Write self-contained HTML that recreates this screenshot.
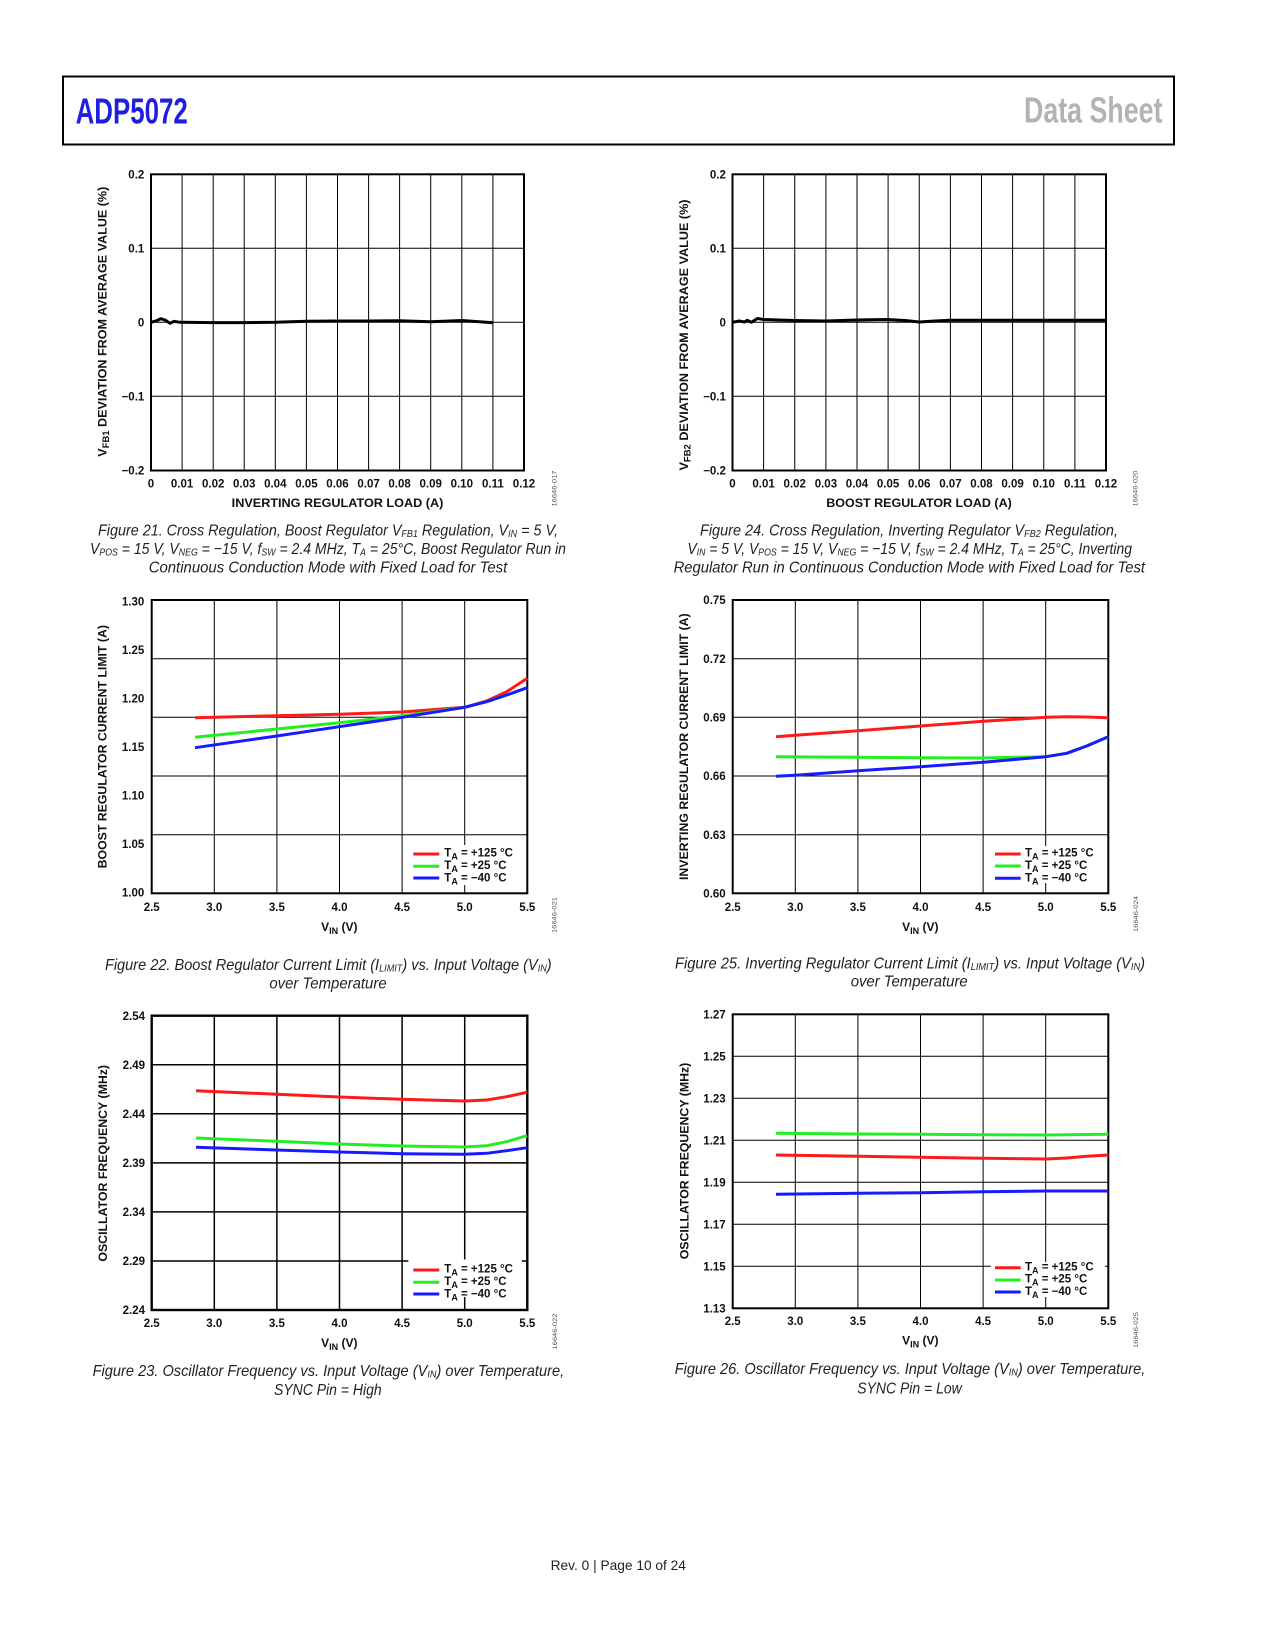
<!DOCTYPE html>
<html><head><meta charset="utf-8">
<style>
html,body{margin:0;padding:0;background:#fff;}
svg{display:block;}
text{font-family:"Liberation Sans",Arial,sans-serif;}
.t{font-size:11.5px;font-weight:bold;fill:#111;}
.ti{font-size:12px;font-weight:bold;fill:#111;}
.cap{font-size:16px;font-style:italic;fill:#231f20;}
.code{font-size:6.5px;fill:#555;}
.grid{stroke:#000;stroke-width:1;fill:none;}
.frame{stroke:#000;stroke-width:2;fill:none;}
.s{fill:none;stroke-width:3;stroke-linejoin:round;stroke-linecap:butt;}
</style></head>
<body>
<svg width="1275" height="1650" viewBox="0 0 1275 1650" xmlns="http://www.w3.org/2000/svg">
<rect x="0" y="0" width="1275" height="1650" fill="#fff"/>

<!-- Header -->
<rect x="63" y="76.5" width="1111" height="68" fill="none" stroke="#000" stroke-width="2"/>
<text x="75.6" y="123.3" font-size="36" font-weight="bold" fill="#1f1fe0" textLength="112.2" lengthAdjust="spacingAndGlyphs">ADP5072</text>
<text x="1024" y="122.7" font-size="36" font-weight="bold" fill="#b3b3b3" textLength="138.5" lengthAdjust="spacingAndGlyphs">Data Sheet</text>

<!-- ================= Chart A (Fig 21) ================= -->
<path class="grid" d="M182.1 174.3V470.5M213.2 174.3V470.5M244.2 174.3V470.5M275.3 174.3V470.5M306.4 174.3V470.5M337.5 174.3V470.5M368.6 174.3V470.5M399.6 174.3V470.5M430.7 174.3V470.5M461.8 174.3V470.5M492.9 174.3V470.5M151 248.3H524M151 322.3H524M151 396.3H524"/>
<rect class="frame" x="151" y="174.3" width="373" height="296.2"/>
<path class="s" stroke="#000" stroke-width="2.6" d="M151 322.3 L156.7 320.7 L160.7 318.7 L165 320 L170 323.3 L174 321.3 L180 322.3 L213 322.6 L244 322.6 L275.7 322.3 L306.4 321.3 L337.5 321 L368.6 321 L399.6 320.8 L430.7 321.7 L461.8 320.5 L493.3 322.7"/>
<g class="t" text-anchor="end">
<text x="144.3" y="178.5">0.2</text>
<text x="144.3" y="252.5">0.1</text>
<text x="144.3" y="326.5">0</text>
<text x="144.3" y="400.5">−0.1</text>
<text x="144.3" y="474.5">−0.2</text>
</g>
<g class="t" text-anchor="middle">
<text x="151" y="487.5">0</text>
<text x="182.1" y="487.5">0.01</text>
<text x="213.2" y="487.5">0.02</text>
<text x="244.2" y="487.5">0.03</text>
<text x="275.3" y="487.5">0.04</text>
<text x="306.4" y="487.5">0.05</text>
<text x="337.5" y="487.5">0.06</text>
<text x="368.6" y="487.5">0.07</text>
<text x="399.6" y="487.5">0.08</text>
<text x="430.7" y="487.5">0.09</text>
<text x="461.8" y="487.5">0.10</text>
<text x="492.9" y="487.5">0.11</text>
<text x="524" y="487.5">0.12</text>
</g>
<text class="ti" x="337.5" y="507" text-anchor="middle" textLength="211.6" lengthAdjust="spacingAndGlyphs">INVERTING REGULATOR LOAD  (A)</text>
<text class="ti" transform="translate(106.5,321.7) rotate(-90)" x="0" y="0" text-anchor="middle" textLength="270" lengthAdjust="spacingAndGlyphs">V<tspan font-size="9" dy="2.5">FB1</tspan><tspan dy="-2.5"> DEVIATION FROM AVERAGE VALUE (%)</tspan></text>
<text class="code" transform="translate(556.5,488.5) rotate(-90)" text-anchor="middle" textLength="36" lengthAdjust="spacingAndGlyphs">16646-017</text>
<g class="cap" text-anchor="middle">
<text x="328" y="535.5" textLength="460" lengthAdjust="spacingAndGlyphs">Figure 21. Cross Regulation, Boost Regulator V<tspan font-size="10" dy="1.5">FB1</tspan><tspan dy="-1.5"> Regulation, V</tspan><tspan font-size="10" dy="1.5">IN</tspan><tspan dy="-1.5"> = 5 V,</tspan></text>
<text x="328" y="554" textLength="476" lengthAdjust="spacingAndGlyphs">V<tspan font-size="10" dy="1.5">POS</tspan><tspan dy="-1.5"> = 15 V, V</tspan><tspan font-size="10" dy="1.5">NEG</tspan><tspan dy="-1.5"> = −15 V, f</tspan><tspan font-size="10" dy="1.5">SW</tspan><tspan dy="-1.5"> = 2.4 MHz, T</tspan><tspan font-size="10" dy="1.5">A</tspan><tspan dy="-1.5"> = 25°C, Boost Regulator Run in</tspan></text>
<text x="328" y="572.5" textLength="358.6" lengthAdjust="spacingAndGlyphs">Continuous Conduction Mode with Fixed Load for Test</text>
</g>

<!-- ================= Chart B (Fig 24) ================= -->
<path class="grid" d="M763.6 174.3V470.5M794.75 174.3V470.5M825.9 174.3V470.5M857 174.3V470.5M888.1 174.3V470.5M919.25 174.3V470.5M950.4 174.3V470.5M981.5 174.3V470.5M1012.6 174.3V470.5M1043.75 174.3V470.5M1074.9 174.3V470.5M732.5 248.3H1106M732.5 322.3H1106M732.5 396.3H1106"/>
<rect class="frame" x="732.5" y="174.3" width="373.5" height="296.2"/>
<path class="s" stroke="#000" stroke-width="2.6" d="M732.3 322.3 L739.2 321 L744.5 322 L747.3 320.3 L751.4 322.3 L757.5 318.5 L763.5 319.5 L794 320.5 L826 321 L857 320 L887 319.5 L905 320.5 L919.5 322 L935 321 L950 320.3 L1106 320.3"/>
<g class="t" text-anchor="end">
<text x="725.9" y="178.5">0.2</text>
<text x="725.9" y="252.5">0.1</text>
<text x="725.9" y="326.5">0</text>
<text x="725.9" y="400.5">−0.1</text>
<text x="725.9" y="474.5">−0.2</text>
</g>
<g class="t" text-anchor="middle">
<text x="732.5" y="487.5">0</text>
<text x="763.6" y="487.5">0.01</text>
<text x="794.75" y="487.5">0.02</text>
<text x="825.9" y="487.5">0.03</text>
<text x="857" y="487.5">0.04</text>
<text x="888.1" y="487.5">0.05</text>
<text x="919.25" y="487.5">0.06</text>
<text x="950.4" y="487.5">0.07</text>
<text x="981.5" y="487.5">0.08</text>
<text x="1012.6" y="487.5">0.09</text>
<text x="1043.75" y="487.5">0.10</text>
<text x="1074.9" y="487.5">0.11</text>
<text x="1106" y="487.5">0.12</text>
</g>
<text class="ti" x="919" y="507" text-anchor="middle" textLength="185.5" lengthAdjust="spacingAndGlyphs">BOOST REGULATOR LOAD (A)</text>
<text class="ti" transform="translate(688,335) rotate(-90)" x="0" y="0" text-anchor="middle" textLength="271" lengthAdjust="spacingAndGlyphs">V<tspan font-size="9" dy="2.5">FB2</tspan><tspan dy="-2.5"> DEVIATION FROM AVERAGE VALUE (%)</tspan></text>
<text class="code" transform="translate(1137.5,488.5) rotate(-90)" text-anchor="middle" textLength="36" lengthAdjust="spacingAndGlyphs">16646-020</text>
<g class="cap" text-anchor="middle">
<text x="909" y="535.5" textLength="418" lengthAdjust="spacingAndGlyphs">Figure 24. Cross Regulation, Inverting Regulator V<tspan font-size="10" dy="1.5">FB2</tspan><tspan dy="-1.5"> Regulation,</tspan></text>
<text x="909.7" y="554" textLength="444.7" lengthAdjust="spacingAndGlyphs">V<tspan font-size="10" dy="1.5">IN</tspan><tspan dy="-1.5"> = 5 V, V</tspan><tspan font-size="10" dy="1.5">POS</tspan><tspan dy="-1.5"> = 15 V, V</tspan><tspan font-size="10" dy="1.5">NEG</tspan><tspan dy="-1.5"> = −15 V, f</tspan><tspan font-size="10" dy="1.5">SW</tspan><tspan dy="-1.5"> = 2.4 MHz, T</tspan><tspan font-size="10" dy="1.5">A</tspan><tspan dy="-1.5"> = 25°C, Inverting</tspan></text>
<text x="909.3" y="572.5" textLength="471.4" lengthAdjust="spacingAndGlyphs">Regulator Run in Continuous Conduction Mode with Fixed Load for Test</text>
</g>

<!-- ================= Chart C (Fig 22) ================= -->
<path class="grid" d="M214.3 600V893.3M276.9 600V893.3M339.5 600V893.3M402.1 600V893.3M464.7 600V893.3M151.7 658.7H527.3M151.7 717.3H527.3M151.7 776H527.3M151.7 834.7H527.3"/>
<rect x="410" y="845" width="111" height="40" fill="#fff"/>
<rect class="frame" x="151.7" y="600" width="375.6" height="293.3"/>
<path class="s" stroke="#ff1a1a" d="M195 717.7 L276.7 715.7 L339.3 714.3 L402.3 712 L464.7 707.3 L486.7 701 L506.7 691.7 L527.3 678.3"/>
<path class="s" stroke="#22ee22" d="M195 737.3 L276.7 729 L339.3 722.7 L402.3 715.7 L464.7 707.3 L486.7 701.7 L506.7 695 L527.3 687.7"/>
<path class="s" stroke="#1a1aff" d="M195 747.7 L276.7 736 L339.3 726.7 L402.3 717.3 L464.7 707.3 L486.7 701.7 L506.7 695 L527.3 687.7"/>
<g class="t" text-anchor="end">
<text x="144.3" y="605.7">1.30</text>
<text x="144.3" y="654.2">1.25</text>
<text x="144.3" y="702.7">1.20</text>
<text x="144.3" y="751.2">1.15</text>
<text x="144.3" y="799.7">1.10</text>
<text x="144.3" y="848.2">1.05</text>
<text x="144.3" y="896.7">1.00</text>
</g>
<g class="t" text-anchor="middle">
<text x="151.7" y="911">2.5</text>
<text x="214.3" y="911">3.0</text>
<text x="276.9" y="911">3.5</text>
<text x="339.5" y="911">4.0</text>
<text x="402.1" y="911">4.5</text>
<text x="464.7" y="911">5.0</text>
<text x="527.3" y="911">5.5</text>
</g>
<path d="M413.3 854H439.3" stroke="#ff1a1a" stroke-width="3"/>
<path d="M413.3 866.3H439.3" stroke="#22ee22" stroke-width="3"/>
<path d="M413.3 878H439.3" stroke="#1a1aff" stroke-width="3"/>
<g class="t">
<text x="444.3" y="856.7">T<tspan font-size="9" dy="3">A</tspan><tspan dy="-3"> = +125 °C</tspan></text>
<text x="444.3" y="869">T<tspan font-size="9" dy="3">A</tspan><tspan dy="-3"> = +25 °C</tspan></text>
<text x="444.3" y="881.3">T<tspan font-size="9" dy="3">A</tspan><tspan dy="-3"> = −40 °C</tspan></text>
</g>
<text class="ti" x="339.3" y="931" text-anchor="middle">V<tspan font-size="9" dy="3">IN</tspan><tspan dy="-3"> (V)</tspan></text>
<text class="ti" transform="translate(106.6,746.7) rotate(-90)" x="0" y="0" text-anchor="middle" textLength="243.3" lengthAdjust="spacingAndGlyphs">BOOST REGULATOR CURRENT LIMIT (A)</text>
<text class="code" transform="translate(556.5,915) rotate(-90)" text-anchor="middle" textLength="36" lengthAdjust="spacingAndGlyphs">16646-021</text>
<g class="cap" text-anchor="middle">
<text x="328.3" y="970" textLength="446.7" lengthAdjust="spacingAndGlyphs">Figure 22. Boost Regulator Current Limit (I<tspan font-size="10" dy="1.5">LIMIT</tspan><tspan dy="-1.5">) vs. Input Voltage (V</tspan><tspan font-size="10" dy="1.5">IN</tspan><tspan dy="-1.5">)</tspan></text>
<text x="328" y="988.3" textLength="117.3" lengthAdjust="spacingAndGlyphs">over Temperature</text>
</g>

<!-- ================= Chart D (Fig 25) ================= -->
<path class="grid" d="M795.3 600V893.3M857.9 600V893.3M920.5 600V893.3M983.1 600V893.3M1045.7 600V893.3M732.7 658.7H1108.3M732.7 717.3H1108.3M732.7 776H1108.3M732.7 834.7H1108.3"/>
<rect x="991" y="846" width="113" height="37" fill="#fff"/>
<rect class="frame" x="732.7" y="600" width="375.6" height="293.3"/>
<path class="s" stroke="#ff1a1a" d="M776 736.7 L795.3 735.3 L858.3 730.7 L920.3 726 L983.3 721.3 L1046 717.3 L1066.7 716.7 L1086.7 717 L1108.3 717.7"/>
<path class="s" stroke="#22ee22" d="M776 756.7 L858.3 757.3 L920.3 757.7 L983.3 758 L1046 756.7 L1066.7 753.3 L1086.7 746 L1108.3 736.7"/>
<path class="s" stroke="#1a1aff" d="M776 776.3 L795.3 775.3 L858.3 770.7 L920.3 766.7 L983.3 762.3 L1046 756.7 L1066.7 753.3 L1086.7 746 L1108.3 736.7"/>
<g class="t" text-anchor="end">
<text x="725.7" y="604.2">0.75</text>
<text x="725.7" y="662.9">0.72</text>
<text x="725.7" y="721.5">0.69</text>
<text x="725.7" y="780.2">0.66</text>
<text x="725.7" y="838.9">0.63</text>
<text x="725.7" y="897.5">0.60</text>
</g>
<g class="t" text-anchor="middle">
<text x="732.7" y="911">2.5</text>
<text x="795.3" y="911">3.0</text>
<text x="857.9" y="911">3.5</text>
<text x="920.5" y="911">4.0</text>
<text x="983.1" y="911">4.5</text>
<text x="1045.7" y="911">5.0</text>
<text x="1108.3" y="911">5.5</text>
</g>
<path d="M995 854H1020.7" stroke="#ff1a1a" stroke-width="3"/>
<path d="M995 866H1020.7" stroke="#22ee22" stroke-width="3"/>
<path d="M995 878.3H1020.7" stroke="#1a1aff" stroke-width="3"/>
<g class="t">
<text x="1025" y="856.7">T<tspan font-size="9" dy="3">A</tspan><tspan dy="-3"> = +125 °C</tspan></text>
<text x="1025" y="869">T<tspan font-size="9" dy="3">A</tspan><tspan dy="-3"> = +25 °C</tspan></text>
<text x="1025" y="881.3">T<tspan font-size="9" dy="3">A</tspan><tspan dy="-3"> = −40 °C</tspan></text>
</g>
<text class="ti" x="920.3" y="931" text-anchor="middle">V<tspan font-size="9" dy="3">IN</tspan><tspan dy="-3"> (V)</tspan></text>
<text class="ti" transform="translate(688,746.7) rotate(-90)" x="0" y="0" text-anchor="middle" textLength="266.7" lengthAdjust="spacingAndGlyphs">INVERTING REGULATOR CURRENT LIMIT (A)</text>
<text class="code" transform="translate(1138,914) rotate(-90)" text-anchor="middle" textLength="36" lengthAdjust="spacingAndGlyphs">16646-024</text>
<g class="cap" text-anchor="middle">
<text x="910" y="968.3" textLength="470" lengthAdjust="spacingAndGlyphs">Figure 25. Inverting Regulator Current Limit (I<tspan font-size="10" dy="1.5">LIMIT</tspan><tspan dy="-1.5">) vs. Input Voltage (V</tspan><tspan font-size="10" dy="1.5">IN</tspan><tspan dy="-1.5">)</tspan></text>
<text x="909.2" y="986.7" textLength="117" lengthAdjust="spacingAndGlyphs">over Temperature</text>
</g>

<!-- ================= Chart E (Fig 23) ================= -->
<path class="grid" stroke-width="1.5" style="stroke-width:1.5" d="M214.3 1015.7V1310M276.9 1015.7V1310M339.5 1015.7V1310M402.1 1015.7V1310M464.7 1015.7V1310M151.7 1064.75H527.3M151.7 1113.8H527.3M151.7 1162.85H527.3M151.7 1211.9H527.3M151.7 1260.95H527.3"/>
<rect x="408.3" y="1259.5" width="113.4" height="37.5" fill="#fff"/>
<rect class="frame" style="stroke-width:2.4" x="151.7" y="1015.7" width="375.6" height="294.3"/>
<path class="s" stroke="#ff1a1a" d="M196 1090.7 L276.7 1094.3 L339.3 1097 L401.7 1099.3 L464.3 1101 L486.7 1100 L506.7 1096.7 L527 1092.3"/>
<path class="s" stroke="#22ee22" d="M196 1138 L276.7 1141.3 L339.3 1144 L401.7 1146 L464.3 1147 L486.7 1145.7 L506.7 1141.7 L527 1135.7"/>
<path class="s" stroke="#1a1aff" d="M196 1147.3 L276.7 1150 L339.3 1152 L401.7 1153.7 L464.3 1154.3 L486.7 1153.3 L506.7 1150.7 L527 1147.7"/>
<g class="t" text-anchor="end">
<text x="145" y="1019.9">2.54</text>
<text x="145" y="1068.95">2.49</text>
<text x="145" y="1118">2.44</text>
<text x="145" y="1167.05">2.39</text>
<text x="145" y="1216.1">2.34</text>
<text x="145" y="1265.15">2.29</text>
<text x="145" y="1314.2">2.24</text>
</g>
<g class="t" text-anchor="middle">
<text x="151.7" y="1327">2.5</text>
<text x="214.3" y="1327">3.0</text>
<text x="276.9" y="1327">3.5</text>
<text x="339.5" y="1327">4.0</text>
<text x="402.1" y="1327">4.5</text>
<text x="464.7" y="1327">5.0</text>
<text x="527.3" y="1327">5.5</text>
</g>
<path d="M413.3 1270H439.3" stroke="#ff1a1a" stroke-width="3"/>
<path d="M413.3 1282.3H439.3" stroke="#22ee22" stroke-width="3"/>
<path d="M413.3 1294H439.3" stroke="#1a1aff" stroke-width="3"/>
<g class="t">
<text x="444.3" y="1272.7">T<tspan font-size="9" dy="3">A</tspan><tspan dy="-3"> = +125 °C</tspan></text>
<text x="444.3" y="1285">T<tspan font-size="9" dy="3">A</tspan><tspan dy="-3"> = +25 °C</tspan></text>
<text x="444.3" y="1297.3">T<tspan font-size="9" dy="3">A</tspan><tspan dy="-3"> = −40 °C</tspan></text>
</g>
<text class="ti" x="339.3" y="1347" text-anchor="middle">V<tspan font-size="9" dy="3">IN</tspan><tspan dy="-3"> (V)</tspan></text>
<text class="ti" transform="translate(107,1163.3) rotate(-90)" x="0" y="0" text-anchor="middle" textLength="196.7" lengthAdjust="spacingAndGlyphs">OSCILLATOR FREQUENCY (MHz)</text>
<text class="code" transform="translate(557,1331.5) rotate(-90)" text-anchor="middle" textLength="36" lengthAdjust="spacingAndGlyphs">16646-022</text>
<g class="cap" text-anchor="middle">
<text x="328.4" y="1376" textLength="471.5" lengthAdjust="spacingAndGlyphs">Figure 23. Oscillator Frequency vs. Input Voltage (V<tspan font-size="10" dy="1.5">IN</tspan><tspan dy="-1.5">) over Temperature,</tspan></text>
<text x="327.8" y="1395" textLength="107.7" lengthAdjust="spacingAndGlyphs">SYNC Pin = High</text>
</g>

<!-- ================= Chart F (Fig 26) ================= -->
<path class="grid" d="M795.3 1014.3V1308.3M857.9 1014.3V1308.3M920.5 1014.3V1308.3M983.1 1014.3V1308.3M1045.7 1014.3V1308.3M732.7 1056.3H1108.3M732.7 1098.3H1108.3M732.7 1140.3H1108.3M732.7 1182.3H1108.3M732.7 1224.3H1108.3M732.7 1266.3H1108.3"/>
<rect x="990.7" y="1262" width="114.3" height="35" fill="#fff"/>
<rect class="frame" x="732.7" y="1014.3" width="375.6" height="294"/>
<path class="s" stroke="#22ee22" d="M776 1133.3 L858.3 1134 L920.3 1134.3 L983.3 1134.7 L1046 1135 L1108.3 1134.3"/>
<path class="s" stroke="#ff1a1a" d="M776 1155 L858.3 1156.3 L920.3 1157.3 L983.3 1158.3 L1046 1159 L1066.7 1158 L1086.7 1156.3 L1108.3 1155"/>
<path class="s" stroke="#1a1aff" d="M776 1194.3 L858.3 1193.3 L920.3 1192.7 L983.3 1191.7 L1046 1191 L1108.3 1191"/>
<g class="t" text-anchor="end">
<text x="725.7" y="1018.5">1.27</text>
<text x="725.7" y="1060.5">1.25</text>
<text x="725.7" y="1102.5">1.23</text>
<text x="725.7" y="1144.5">1.21</text>
<text x="725.7" y="1186.5">1.19</text>
<text x="725.7" y="1228.5">1.17</text>
<text x="725.7" y="1270.5">1.15</text>
<text x="725.7" y="1312.5">1.13</text>
</g>
<g class="t" text-anchor="middle">
<text x="732.7" y="1325">2.5</text>
<text x="795.3" y="1325">3.0</text>
<text x="857.9" y="1325">3.5</text>
<text x="920.5" y="1325">4.0</text>
<text x="983.1" y="1325">4.5</text>
<text x="1045.7" y="1325">5.0</text>
<text x="1108.3" y="1325">5.5</text>
</g>
<path d="M995 1267.7H1020.7" stroke="#ff1a1a" stroke-width="3"/>
<path d="M995 1280H1020.7" stroke="#22ee22" stroke-width="3"/>
<path d="M995 1292H1020.7" stroke="#1a1aff" stroke-width="3"/>
<g class="t">
<text x="1025" y="1270.4">T<tspan font-size="9" dy="3">A</tspan><tspan dy="-3"> = +125 °C</tspan></text>
<text x="1025" y="1282.7">T<tspan font-size="9" dy="3">A</tspan><tspan dy="-3"> = +25 °C</tspan></text>
<text x="1025" y="1295">T<tspan font-size="9" dy="3">A</tspan><tspan dy="-3"> = −40 °C</tspan></text>
</g>
<text class="ti" x="920.3" y="1344.3" text-anchor="middle">V<tspan font-size="9" dy="3">IN</tspan><tspan dy="-3"> (V)</tspan></text>
<text class="ti" transform="translate(688.5,1161) rotate(-90)" x="0" y="0" text-anchor="middle" textLength="196.6" lengthAdjust="spacingAndGlyphs">OSCILLATOR FREQUENCY (MHz)</text>
<text class="code" transform="translate(1138,1330) rotate(-90)" text-anchor="middle" textLength="36" lengthAdjust="spacingAndGlyphs">16646-025</text>
<g class="cap" text-anchor="middle">
<text x="910" y="1374" textLength="470.6" lengthAdjust="spacingAndGlyphs">Figure 26. Oscillator Frequency vs. Input Voltage (V<tspan font-size="10" dy="1.5">IN</tspan><tspan dy="-1.5">) over Temperature,</tspan></text>
<text x="909.5" y="1393.3" textLength="104.4" lengthAdjust="spacingAndGlyphs">SYNC Pin = Low</text>
</g>

<!-- Footer -->
<text x="618.3" y="1570" text-anchor="middle" font-size="14" fill="#231f20" textLength="135.3" lengthAdjust="spacingAndGlyphs">Rev. 0 | Page 10 of 24</text>
</svg>
</body></html>
